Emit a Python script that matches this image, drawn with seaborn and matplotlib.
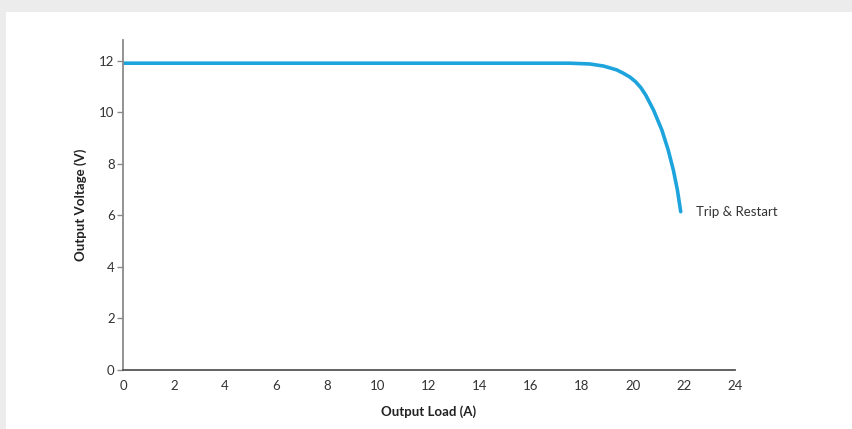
"""
Output voltage vs load curve (trip & restart)
"""

import pandas as pd
import matplotlib.pyplot as plt
import seaborn as sns
from matplotlib.patches import Rectangle

# values
load_a = [0, 17.5, 18.3, 18.84, 19.36, 19.62, 19.88, 20.1, 20.3, 20.5, 20.8,
          21.13, 21.38, 21.58, 21.74, 21.87]
voltage_v = [11.9, 11.9, 11.87, 11.79, 11.64, 11.51, 11.36, 11.18, 10.96, 10.66, 10.09,
             9.31, 8.53, 7.76, 6.98, 6.14]
x_ticks = [0, 2, 4, 6, 8, 10, 12, 14, 16, 18, 20, 22, 24]
y_ticks = [0, 2, 4, 6, 8, 10, 12]
note_text = 'Trip & Restart'
note_pos = (22.45, 6.14)

df = pd.DataFrame({'load': load_a, 'voltage': voltage_v})

sns.set_style('white')
plt.rcParams['font.family'] = ['Lato', 'DejaVu Sans']

fig = plt.figure(figsize=(8.53, 4.29), dpi=100, facecolor='#ececec')
# white card over the grey page
fig.patches.append(Rectangle((6 / 853, 0), 1, 1 - 12 / 429, transform=fig.transFigure,
                             facecolor='white', edgecolor='none', zorder=-1))

ax = fig.add_axes([0.1442, 0.1375, 0.7175, 0.7693])
ax.set_facecolor('none')

sns.lineplot(data=df, x='load', y='voltage', ax=ax, color='#1ea4dc', linewidth=2.6)
ax.lines[0].set_solid_joinstyle('round')

ax.set_xlim(0, 24)
ax.set_ylim(0, 12.8)
ax.set_xticks(x_ticks)
ax.set_yticks(y_ticks)

ax.text(note_pos[0], note_pos[1], note_text, fontsize=9.5, color='#333333', va='center')

ax.set_xlabel('Output Load (A)', fontsize=9.5, fontweight='bold', color='#222222', labelpad=10)
ax.set_ylabel('Output Voltage (V)', fontsize=9.5, fontweight='bold', color='#222222', labelpad=9)

sns.despine(ax=ax)
ax.spines['left'].set_color('#8a8a8a')
ax.spines['left'].set_linewidth(1.3)
ax.spines['bottom'].set_color('#555555')
ax.spines['bottom'].set_linewidth(1.3)

ax.tick_params(axis='y', length=4, width=1, color='#8a8a8a', labelsize=9.5,
               labelcolor='#333333', pad=2, left=True)
ax.tick_params(axis='x', length=0, labelsize=9.5, labelcolor='#333333', pad=7)

plt.savefig('out.png', dpi=100, facecolor=fig.get_facecolor())
